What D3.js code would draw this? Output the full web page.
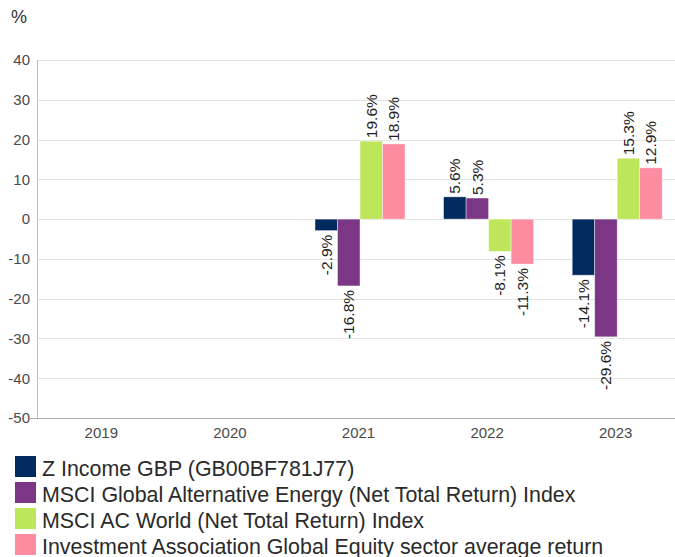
<!DOCTYPE html>
<html><head><meta charset="utf-8">
<script src="https://cdn.jsdelivr.net/npm/d3@7"></script>
<style>html,body{margin:0;padding:0;background:#fff;overflow:hidden}svg{display:block;font-family:"Liberation Sans",Arial,sans-serif}</style>
</head><body>
<svg id="c" width="675" height="557"></svg>
<script>
const years = ["2019","2020","2021","2022","2023"];
const seriesNames = [
  "Z Income GBP (GB00BF781J77)",
  "MSCI Global Alternative Energy (Net Total Return) Index",
  "MSCI AC World (Net Total Return) Index",
  "Investment Association Global Equity sector average return"
];
const seriesColors = ["#012a5e","#7b3786","#bde65b","#fe8ca0"];
const zIncome   = [null, null, -2.9, 5.6, -14.1];
const msciAltEn = [null, null, -16.8, 5.3, -29.6];
const msciACWI  = [null, null, 19.6, -8.1, 15.3];
const iaGlobal  = [null, null, 18.9, -11.3, 12.9];
const yTicks = [40,30,20,10,0,-10,-20,-30,-40,-50];

(function () {
const seriesValues = [zIncome, msciAltEn, msciACWI, iaGlobal];
const svg = d3.select("#c");
const mLeft = 37, mRight = 680, mTop = 60, mBottom = 418;
const FF = "Liberation Sans, Arial, sans-serif";

const x0 = d3.scaleBand().domain(years).range([mLeft, mRight]).padding(0);
const groupW = x0.bandwidth() * 0.7;
const x1 = d3.scaleBand().domain(d3.range(seriesNames.length)).range([0, groupW]).padding(0);
const y = d3.scaleLinear().domain([-50, 40]).range([mBottom, mTop]);

// gridlines
svg.append("g").selectAll("line").data(yTicks.filter(d => d !== -50)).join("line")
  .attr("x1", mLeft).attr("x2", mRight)
  .attr("y1", d => Math.round(y(d)) + 0.5).attr("y2", d => Math.round(y(d)) + 0.5)
  .attr("stroke", "#e4e4e4").attr("stroke-width", 1);

// y axis
const yAxis = svg.append("g").attr("transform", `translate(${mLeft},0)`)
  .call(d3.axisLeft(y).tickValues(yTicks).tickFormat(d => String(d)).tickSize(0).tickPadding(7));
yAxis.attr("font-family", FF);
yAxis.select(".domain").attr("stroke", "#bdbdbd").attr("d", `M0.5,${mTop}V${mBottom}`);
yAxis.selectAll("text").attr("font-size", 15).attr("fill", "#4a4a4a");

// x axis
const xAxis = svg.append("g").attr("transform", `translate(0,${mBottom})`)
  .call(d3.axisBottom(x0).tickSize(0).tickPadding(9));
xAxis.attr("font-family", FF);
xAxis.select(".domain").attr("stroke", "#b0b0b0").attr("d", `M29,0.5H${mRight}`);
xAxis.selectAll("text").attr("font-size", 15).attr("fill", "#4a4a4a");

// bars
const flat = [];
years.forEach((yr, i) => seriesValues.forEach((s, k) => {
  if (s[i] !== null) flat.push({yr, k, v: s[i]});
}));
const gx = d => x0(d.yr) + (x0.bandwidth() - groupW) / 2 + 1.5 + x1(d.k);

svg.append("g").selectAll("rect").data(flat).join("rect")
  .attr("x", gx).attr("width", x1.bandwidth())
  .attr("y", d => y(Math.max(0, d.v)))
  .attr("height", d => Math.abs(y(d.v) - y(0)))
  .attr("fill", d => seriesColors[d.k])
  .attr("stroke", "rgba(255,255,255,0.6)").attr("stroke-width", 0.7);

// labels
svg.append("g").attr("font-family", FF).selectAll("text").data(flat).join("text")
  .attr("transform", d => {
    const cx = gx(d) + x1.bandwidth() / 2;
    const cy = d.v >= 0 ? y(d.v) - 3 : y(d.v) + 4;
    return `translate(${cx},${cy}) rotate(-90)`;
  })
  .attr("text-anchor", d => d.v >= 0 ? "start" : "end")
  .attr("dominant-baseline", "central")
  .attr("font-size", 15.5).attr("fill", "#1e1e1e")
  .text(d => d.v.toFixed(1) + "%");

// unit label
svg.append("text").attr("x", 11).attr("y", 23).attr("font-size", 18).attr("font-family", FF).attr("fill", "#333").text("%");

// legend
const lg = svg.append("g").attr("font-family", FF).selectAll("g").data(seriesNames).join("g")
  .attr("transform", (d, i) => `translate(15,${456 + i * 26})`);
lg.append("rect").attr("width", 21).attr("height", 21).attr("fill", (d, i) => seriesColors[i]);
lg.append("text").attr("x", 27).attr("y", 19.5).attr("font-size", 21.4).attr("fill", "#2a2a2a")
  .text(d => d);
})();
</script>
</body></html>
